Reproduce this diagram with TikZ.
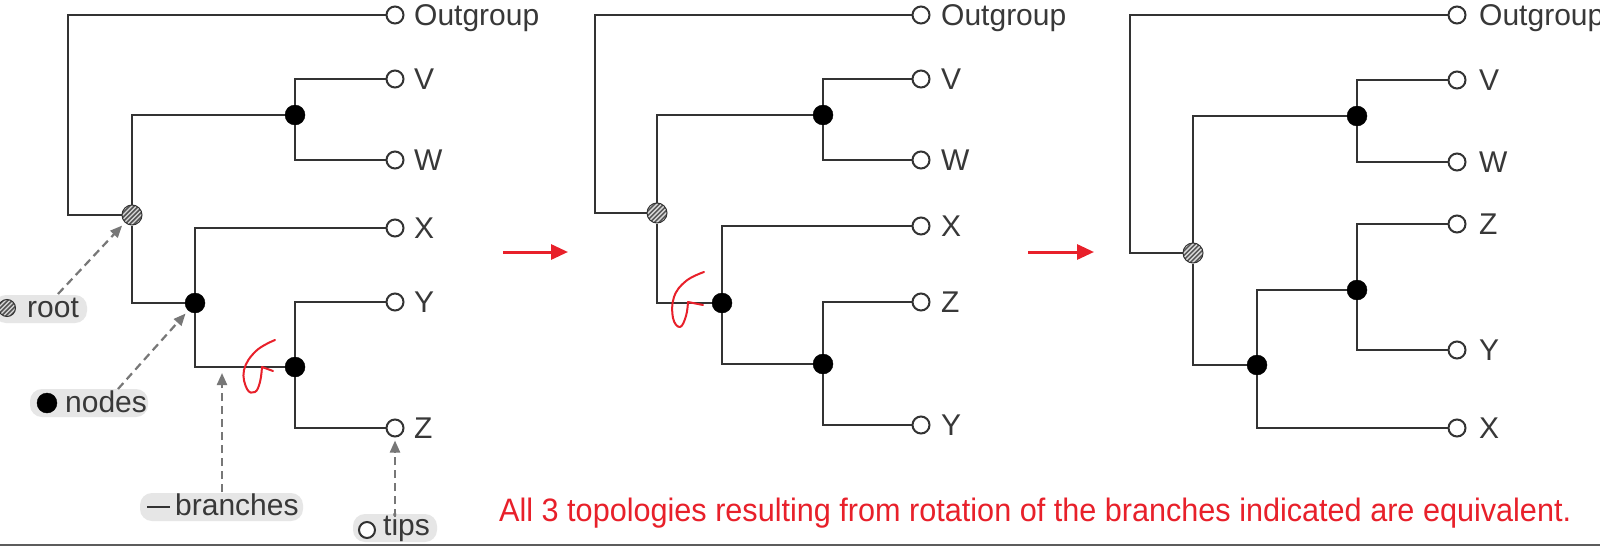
\documentclass[tikz,border=0pt]{standalone}
\usepackage{fontspec}
\setmainfont{Liberation Sans}
\usetikzlibrary{arrows.meta,calc}
\definecolor{linec}{HTML}{333333}
\definecolor{redc}{HTML}{E8202A}
\definecolor{boxc}{HTML}{E6E6E6}
\definecolor{arrc}{HTML}{777777}
\definecolor{txtc}{HTML}{383838}
\definecolor{hatchc}{HTML}{555555}
\begin{document}
\begin{tikzpicture}[x=1pt,y=-1pt,
  branch/.style={draw=linec, line width=2.6pt},
  tip/.style={circle, draw=linec, fill=white, line width=2pt, minimum size=17pt, inner sep=0},
  inode/.style={circle, fill=black, draw=black, minimum size=20pt, inner sep=0},
  rootnode/.style={circle, fill=hatchc, draw=linec, line width=1pt, minimum size=#1, inner sep=0,
    path picture={\foreach \i in {-3,...,3}{\draw[white!70!gray, line width=1.4pt] ($(path picture bounding box.center)+(\i*4.5pt-12pt,-12pt)$) -- ++(24pt,24pt);}}},
  rootnode/.default=20pt,
  tiplabel/.style={anchor=west, inner sep=0, text height=21.5pt, text depth=0pt, font=\fontsize{30}{30}\selectfont, text=txtc},
  legbox/.style={fill=boxc, rounded corners=12pt, inner sep=0, minimum height=28pt},
  legtext/.style={anchor=base west, inner sep=0, font=\fontsize{30}{30}\selectfont, text=txtc},
  garrow/.style={draw=arrc, line width=2.2pt, dash pattern=on 8pt off 5pt, -{Triangle[length=12pt,width=10pt]}},
  redarrow/.style={draw=redc, line width=3pt, -{Triangle[length=17pt,width=15pt]}},
  redloop/.style={draw=redc, line width=2pt, line cap=round, line join=round}
]
\useasboundingbox (0,0) rectangle (1600,546);
\fill[white] (0,0) rectangle (1600,546);

% ---------- Tree 1 ----------
\coordinate (c1) at (68,215);
\node[tip] (og1) at (395,15) {};
\node[tip] (v1) at (395,79) {};
\node[tip] (w1) at (395,160) {};
\node[tip] (x1) at (395,228) {};
\node[tip] (y1) at (395,302) {};
\node[tip] (z1) at (395,428) {};
\node[inode] (vw1) at (295,115) {};
\node[rootnode] (r1) at (132,215) {};
\node[inode] (a1) at (195,303) {};
\node[inode] (b1) at (295,367) {};
\draw[branch] (r1) -- (c1) |- (og1);
\draw[branch] (r1) |- (vw1);
\draw[branch] (r1) |- (a1);
\draw[branch] (vw1) |- (v1);
\draw[branch] (vw1) |- (w1);
\draw[branch] (a1) |- (x1);
\draw[branch] (a1) |- (b1);
\draw[branch] (b1) |- (y1);
\draw[branch] (b1) |- (z1);
\node[tiplabel] (log1) at ($(og1)+(19,0)$) {Outgroup};
\node[tiplabel] (lv1) at ($(v1)+(19,0)$) {V};
\node[tiplabel] (lw1) at ($(w1)+(19,0)$) {W};
\node[tiplabel] (lx1) at ($(x1)+(19,0)$) {X};
\node[tiplabel] (ly1) at ($(y1)+(19,0)$) {Y};
\node[tiplabel] (lz1) at ($(z1)+(19,0)$) {Z};
\draw[redloop] plot[smooth, tension=0.7] coordinates {(275,340) (256,351) (244,370) (247,389) (255,392) (260,382) (262,367)};
\draw[redloop] (262,367) -- (273,371);

% ---------- Tree 2 ----------
\coordinate (c2) at (595,213);
\node[tip] (og2) at (921,15) {};
\node[tip] (v2) at (921,79) {};
\node[tip] (w2) at (921,160) {};
\node[tip] (x2) at (921,226) {};
\node[tip] (z2) at (921,302) {};
\node[tip] (y2) at (921,425) {};
\node[inode] (vw2) at (823,115) {};
\node[rootnode] (r2) at (657,213) {};
\node[inode] (a2) at (722,303) {};
\node[inode] (b2) at (823,364) {};
\draw[branch] (r2) -- (c2) |- (og2);
\draw[branch] (r2) |- (vw2);
\draw[branch] (r2) |- (a2);
\draw[branch] (vw2) |- (v2);
\draw[branch] (vw2) |- (w2);
\draw[branch] (a2) |- (x2);
\draw[branch] (a2) |- (b2);
\draw[branch] (b2) |- (z2);
\draw[branch] (b2) |- (y2);
\node[tiplabel] (log2) at ($(og2)+(20,0)$) {Outgroup};
\node[tiplabel] (lv2) at ($(v2)+(20,0)$) {V};
\node[tiplabel] (lw2) at ($(w2)+(20,0)$) {W};
\node[tiplabel] (lx2) at ($(x2)+(20,0)$) {X};
\node[tiplabel] (lz2) at ($(z2)+(20,0)$) {Z};
\node[tiplabel] (ly2) at ($(y2)+(20,0)$) {Y};
\draw[redloop] plot[smooth, tension=0.7] coordinates {(704,272) (686,281) (674,297) (673,318) (680,327) (686,316) (688,302)};
\draw[redloop] (688,302) -- (703,305);

% ---------- Tree 3 ----------
\coordinate (c3) at (1130,253);
\node[tip] (og3) at (1457,15) {};
\node[tip] (v3) at (1457,80) {};
\node[tip] (w3) at (1457,162) {};
\node[tip] (z3) at (1457,224) {};
\node[tip] (y3) at (1457,350) {};
\node[tip] (x3) at (1457,428) {};
\node[inode] (vw3) at (1357,116) {};
\node[rootnode] (r3) at (1193,253) {};
\node[inode] (a3) at (1257,365) {};
\node[inode] (b3) at (1357,290) {};
\draw[branch] (r3) -- (c3) |- (og3);
\draw[branch] (r3) |- (vw3);
\draw[branch] (r3) |- (a3);
\draw[branch] (vw3) |- (v3);
\draw[branch] (vw3) |- (w3);
\draw[branch] (a3) |- (b3);
\draw[branch] (a3) |- (x3);
\draw[branch] (b3) |- (z3);
\draw[branch] (b3) |- (y3);
\node[tiplabel] (log3) at ($(og3)+(22,0)$) {Outgroup};
\node[tiplabel] (lv3) at ($(v3)+(22,0)$) {V};
\node[tiplabel] (lw3) at ($(w3)+(22,0)$) {W};
\node[tiplabel] (lz3) at ($(z3)+(22,0)$) {Z};
\node[tiplabel] (ly3) at ($(y3)+(22,0)$) {Y};
\node[tiplabel] (lx3) at ($(x3)+(22,0)$) {X};

% ---------- red arrows between trees ----------
\coordinate (ra1s) at (503,252);
\coordinate (ra1e) at (568,252);
\coordinate (ra2s) at (1028,252);
\coordinate (ra2e) at (1094,252);
\draw[redarrow] (ra1s) -- (ra1e);
\draw[redarrow] (ra2s) -- (ra2e);

% ---------- legend ----------
\node[legbox, minimum width=93pt] (broot) at (40.5,309) {};
\node[rootnode=17pt] (iroot) at (7,308) {};
\node[legtext] (troot) at (27,317) {root};

\node[legbox, minimum width=118pt] (bnodes) at (89,403) {};
\node[inode] (inodes) at (47,403) {};
\node[legtext] (tnodes) at (65,412) {nodes};

\node[legbox, minimum width=163pt] (bbranch) at (221.5,507) {};
\coordinate (ib1) at (147,507);
\coordinate (ib2) at (170,507);
\draw[branch] (ib1) -- (ib2);
\node[legtext] (tbranch) at (175,515) {branches};

\node[legbox, minimum width=84pt] (btips) at (395,528) {};
\node[tip, minimum size=16pt] (itips) at (367,530) {};
\node[legtext] (ttips) at (383,535) {tips};

\coordinate (s1) at (58,294);
\coordinate (s2) at (118,389);
\coordinate (s3) at (222,492);
\coordinate (e3) at (222,367);
\coordinate (s4) at (395,517);
\draw[garrow, shorten >=4pt] (s1) -- (r1);
\draw[garrow, shorten >=4pt] (s2) -- (a1);
\draw[garrow, shorten >=6pt] (s3) -- (e3);
\draw[garrow, shorten >=3pt] (s4) -- (z1);

% ---------- caption ----------
\node[anchor=base west, inner sep=0, text=redc] (cap) at (499,521)
  {\resizebox{1072pt}{23.5pt}{\fontsize{32}{32}\selectfont All 3 topologies resulting from rotation of the branches indicated are equivalent.}};

% ---------- bottom rule ----------
\coordinate (bl) at (0,545);
\coordinate (br) at (1600,545);
\draw[draw=linec!80, line width=2pt] (bl) -- (br);
\end{tikzpicture}
\end{document}
